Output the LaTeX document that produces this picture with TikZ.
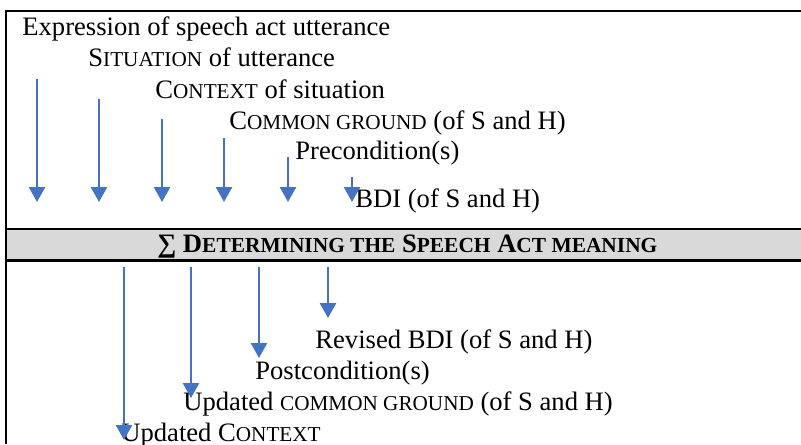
\documentclass[tikz,border=0pt]{standalone}
\usepackage{fontspec}
\setmainfont{Liberation Serif}
\usetikzlibrary{arrows.meta}
\definecolor{flowblue}{HTML}{4472C4}
\definecolor{bandgray}{HTML}{D9D9D9}
% faked small capitals (reduced upper-case letters)
\newcommand\smcaps[1]{{\fontsize{10.6}{12}\selectfont #1}}
\newcommand\smcapsb[1]{{\fontsize{10.7}{12}\selectfont #1}}
\tikzset{
  label text/.style={inner sep=0pt, anchor=base west, font=\fontsize{13.3}{15}\selectfont},
  band text/.style={inner sep=0pt, anchor=base west, font=\fontsize{13.3}{15}\selectfont\bfseries},
  flow/.style={draw=flowblue, line width=1.25pt,
    -{Triangle[width=8pt,length=7.5pt]}, flowblue},
  frame/.style={line width=1.1pt, black}
}
\begin{document}
\begin{tikzpicture}[x=0.5pt, y=-0.5pt]
\useasboundingbox (0,0) rectangle (801,444);

% frame and the summary band
\fill[bandgray] (6,229) rectangle (801,260);
\draw[frame] (801,11) -- (6,11) -- (6,444);
\draw[frame] (6,229) -- (801,229);
\draw[frame] (6,260.5) -- (801,260.5);

% inputs
\node[label text] (expr) at (22,36) {Expression of speech act utterance};
\node[label text] (sit)  at (88,67) {S\smcaps{ITUATION} of utterance};
\node[label text] (ctx)  at (155,98) {C\smcaps{ONTEXT} of situation};
\node[label text] (cg)   at (229,129) {C\smcaps{OMMON GROUND} (of S and H)};
\node[label text] (pre)  at (295,159) {Precondition(s)};
\node[label text] (bdi)  at (355,207) {BDI (of S and H)};

% summary
\node[band text] (sum) at (157,252) {∑ D\smcapsb{ETERMINING THE} S\smcapsb{PEECH} A\smcapsb{CT MEANING}};

% outputs
\node[label text] (rbdi)  at (315,348) {Revised BDI (of S and H)};
\node[label text] (post)  at (255,379) {Postcondition(s)};
\node[label text] (ucg)   at (183,410) {Updated \smcaps{COMMON GROUND} (of S and H)};
\node[label text] (uctx)  at (121,441) {Updated C\smcaps{ONTEXT}};

% arrow end points, upper half
\coordinate (a1s) at (37,79);   \coordinate (a1e) at (37,202);
\coordinate (a2s) at (99,99);   \coordinate (a2e) at (99,202);
\coordinate (a3s) at (162,119); \coordinate (a3e) at (162,202);
\coordinate (a4s) at (224,138); \coordinate (a4e) at (224,202);
\coordinate (a5s) at (288,157); \coordinate (a5e) at (288,202);
\coordinate (a6s) at (352,177); \coordinate (a6e) at (352,202);
% arrow end points, lower half
\coordinate (b1s) at (124,267); \coordinate (b1e) at (124,440);
\coordinate (b2s) at (191,267); \coordinate (b2e) at (191,398);
\coordinate (b3s) at (259,267); \coordinate (b3e) at (259,358);
\coordinate (b4s) at (328,267); \coordinate (b4e) at (328,318);

\foreach \p in {a1,a2,a3,a4,a5,a6,b1,b2,b3,b4}
  \draw[flow] (\p s) -- (\p e);
\end{tikzpicture}
\end{document}
